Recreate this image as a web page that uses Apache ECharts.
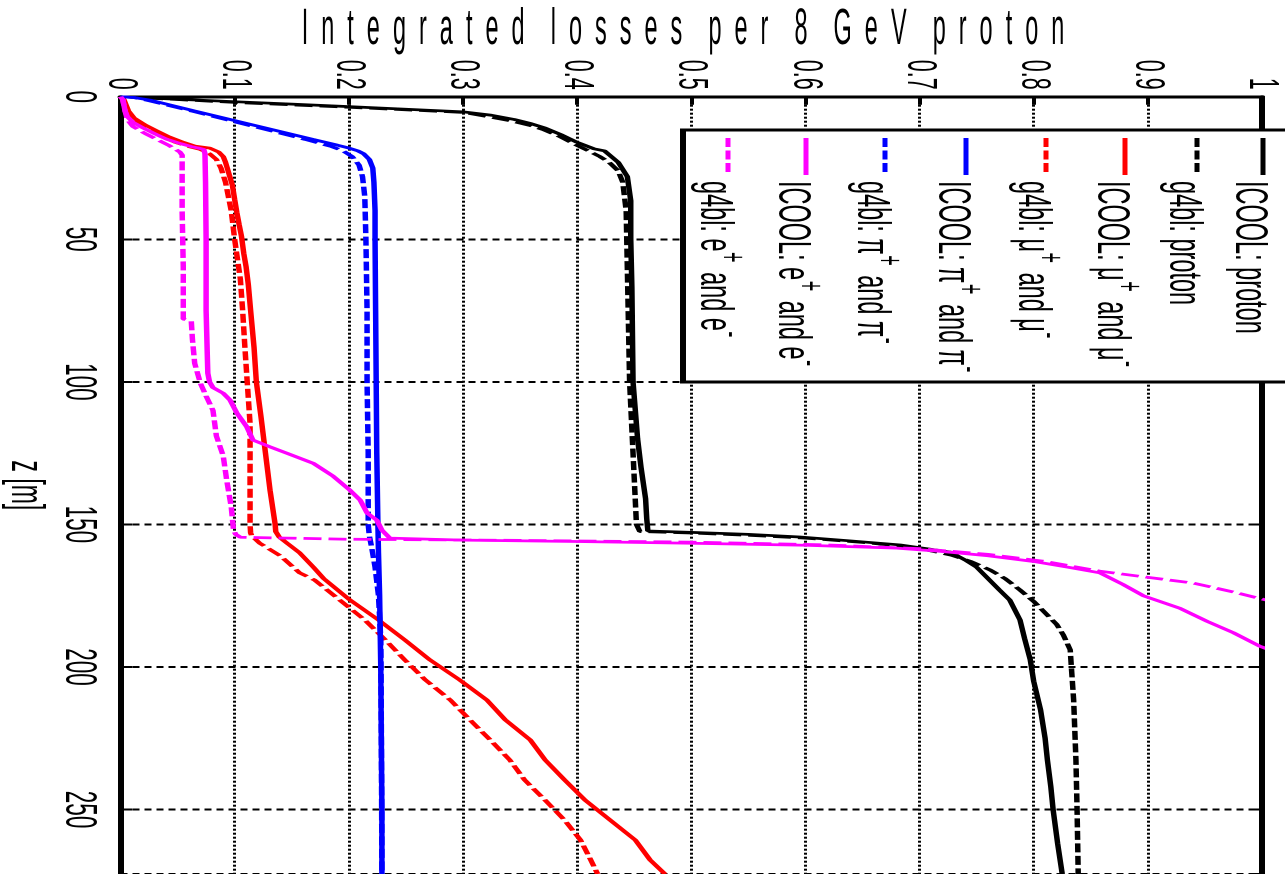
<!DOCTYPE html>
<html><head><meta charset="utf-8">
<script src="https://cdn.jsdelivr.net/npm/echarts/dist/echarts.min.js"></script>
<style>
html,body{margin:0;padding:0;background:#fff;overflow:hidden}
#wrap{width:1285px;height:874px;overflow:hidden;position:relative;background:#fff}
#chart{width:1285px;height:1748px;transform:scaleY(0.5);transform-origin:0 0;position:absolute;left:0;top:0}
</style></head>
<body><div id="wrap"><div id="chart"></div></div>
<script>
// ---- data: z [m] and integrated loss fraction v ----
const zIcoolProton = [0,0.7,1.75,2.6,3.5,4.4,5.3,6.5,8,9.5,11,13.5,16,18.3,19,21,23,28,36.5,50,67,100,110,120,130,141,148,152.3,152.8,153.5,154.4,155.8,157.2,159.7,162.5,165,167.8,173,176.5,183.5,190,197.5,205,215,225,232.6,242,250,262,272.6];
const vIcoolProton = [0,0.04,0.1,0.15,0.2,0.25,0.3,0.325,0.345,0.36,0.372,0.387,0.4,0.415,0.424,0.43,0.436,0.444,0.447,0.447,0.448,0.449,0.451,0.453,0.456,0.46,0.461,0.462,0.5,0.55,0.595,0.64,0.683,0.727,0.74,0.75,0.757,0.77,0.779,0.788,0.792,0.797,0.8,0.806,0.81,0.812,0.815,0.817,0.821,0.825];

const zG4blProton = [0,1,2,3.7,5.5,7,8.5,10,11.5,14,16.5,19,21,23,26,30,40,60,100,125,150,152.5,153,153.8,154.8,156.3,158,160.8,163,166,169,173,177,181.8,185,188.8,194,200,211.6,232.6,250,272.6];
const vG4blProton = [0,0.05,0.1,0.2,0.3,0.322,0.342,0.358,0.37,0.385,0.397,0.41,0.42,0.428,0.436,0.44,0.443,0.444,0.446,0.449,0.452,0.455,0.5,0.55,0.6,0.65,0.695,0.728,0.745,0.762,0.775,0.788,0.8,0.812,0.82,0.826,0.832,0.833,0.835,0.837,0.838,0.839];

const zIcoolMu = [0,1,3,5,7.5,10,12,14,16,17.3,18,19.4,21,23,27,31,36,40.8,45,49,55,59.6,66,75,88,100,112,125,138,150,152.5,154.4,156.6,160,165,169,176.5,183.5,190.5,197.5,204.5,211.6,218.5,225.6,232.6,239.6,246.7,253.7,260.7,267.7,272.6];
const vIcoolMu = [0,0.003,0.005,0.007,0.012,0.022,0.032,0.042,0.055,0.065,0.078,0.086,0.09,0.092,0.095,0.098,0.1,0.102,0.104,0.106,0.108,0.11,0.112,0.114,0.117,0.119,0.123,0.127,0.131,0.1355,0.136,0.139,0.146,0.157,0.169,0.178,0.201,0.226,0.249,0.271,0.297,0.321,0.337,0.359,0.372,0.389,0.407,0.429,0.451,0.464,0.477];

const zG4blMu = [0,1,3,5,8,10,12,14,16,17.5,18.5,20,22,25,30,40,50,64,75,88,100,114.6,130,150,153,154,156.6,161,167,169.5,176.5,183.5,190.5,197.5,204.5,211.6,218.5,225.6,232.6,239.6,246.7,253.7,260.7,267.7,272.6];
const vG4blMu = [0,0.002,0.004,0.006,0.011,0.018,0.027,0.036,0.048,0.06,0.07,0.078,0.084,0.088,0.092,0.097,0.1,0.105,0.107,0.109,0.111,0.1135,0.1135,0.1135,0.114,0.115,0.122,0.14,0.157,0.17,0.192,0.214,0.232,0.249,0.267,0.289,0.306,0.324,0.341,0.354,0.372,0.389,0.403,0.412,0.418];

const zIcoolPi = [0,0.3,1.2,5,10,15,17,18,19,20,22,25,30,40,50,75,100,125,150,160,175,200,225,250,272.6];
const vIcoolPi = [0,0.012,0.026,0.065,0.117,0.169,0.19,0.2,0.208,0.213,0.218,0.221,0.222,0.223,0.223,0.2235,0.224,0.2245,0.2255,0.226,0.227,0.228,0.2285,0.229,0.229];

const zG4blPi = [0,0.3,1.5,5,10,15,17.5,19,21,24,28,35,50,75,100,125,150,154,158,165,175,190,220,272.6];
const vG4blPi = [0,0.012,0.026,0.062,0.112,0.162,0.185,0.195,0.203,0.209,0.212,0.214,0.215,0.216,0.216,0.217,0.217,0.218,0.22,0.223,0.226,0.228,0.2285,0.229];

const zIcoolE = [0,1,3,5,7,9,11,13,15,16.5,17.5,18,18.5,20,30,50,75,90,97,100,102,104,106.4,111,115.7,120.4,122.8,125,128.6,133,138,141.5,146,148.5,152,154.8,155.5,156,156.6,157.3,158.3,159.5,161,163,165,167,171,175,179.4,184,188,192.7,196];
const vIcoolE = [0,0.002,0.003,0.004,0.006,0.011,0.02,0.03,0.041,0.053,0.062,0.068,0.073,0.074,0.0745,0.075,0.075,0.076,0.0765,0.078,0.081,0.09,0.096,0.102,0.1105,0.116,0.131,0.1455,0.169,0.186,0.201,0.21,0.216,0.2245,0.229,0.236,0.3,0.4,0.5,0.6,0.68,0.72,0.76,0.8,0.83,0.858,0.878,0.896,0.928,0.952,0.975,0.998,1.02];

const zG4blE = [0,1,3,5,8,10.5,13,15,17,19.4,20.5,40,60,78,78.6,85,93.5,100.5,105,110,119,126,134.4,143.8,152,153.5,154.5,155.2,155.6,156.2,157.2,158.5,160.5,163,166.4,168.5,170.6,173.7,176,178];
const vG4blE = [0,0.002,0.003,0.004,0.006,0.011,0.022,0.032,0.042,0.052,0.054,0.054,0.055,0.055,0.062,0.063,0.065,0.07,0.075,0.081,0.084,0.09,0.093,0.097,0.099,0.101,0.105,0.2,0.35,0.5,0.62,0.7,0.76,0.81,0.858,0.899,0.94,0.975,0.998,1.02];

const seriesNames = ['ICOOL: proton','g4bl: proton','ICOOL: μ+ and μ-','g4bl: μ+ and μ-','ICOOL: π+ and π-','g4bl: π+ and π-','ICOOL: e+ and e-','g4bl: e+ and e-'];
const seriesColors = ['#000000','#000000','#ff0000','#ff0000','#0000ff','#0000ff','#ff00ff','#ff00ff'];
const seriesDashed = [false,true,false,true,false,true,false,true];
const seriesZ = [zIcoolProton,zG4blProton,zIcoolMu,zG4blMu,zIcoolPi,zG4blPi,zIcoolE,zG4blE];
const seriesV = [vIcoolProton,vG4blProton,vIcoolMu,vG4blMu,vIcoolPi,vG4blPi,vIcoolE,vG4blE];

const titleText = 'Integrated losses per 8 GeV proton';
const zAxisName = 'z [m]';

// ---- layout (canvas is drawn at 2x height, then squeezed vertically by CSS) ----
const FONT = "'Liberation Sans', Arial, Helvetica, sans-serif";
const DASH = [18, 7];
const legendX = [1263, 1197, 1125, 1046, 966, 885, 806, 728];

const chart = echarts.init(document.getElementById('chart'), null, {renderer: 'canvas'});

const spacedTitle = titleText.split(' ').map(w => w.split('').join('  ')).join('    ');

const graphics = [
  {type: 'text', x: 683, y: 60, scaleX: 0.46, scaleY: 2, z: 100,
   style: {text: spacedTitle, fontSize: 51, fontFamily: FONT, fill: '#000', align: 'center', verticalAlign: 'middle'}},
  {type: 'rect', z: 100, shape: {x: 683, y: 260, width: 700, height: 504},
   style: {fill: '#fff', stroke: '#000', lineWidth: 6}}
];
seriesNames.forEach((nm, i) => {
  const X = legendX[i];
  graphics.push({type: 'line', z: 101, shape: {x1: X, y1: 276, x2: X, y2: 350},
    style: {stroke: seriesColors[i], lineWidth: 5, lineDash: seriesDashed[i] ? DASH : null}});
  const parts = nm.split(/([μπe])([+-])/);
  let rt = '';
  for (let k = 0; k < parts.length; k++) {
    const p = parts[k];
    if (p === '') continue;
    if ((p === '+' || p === '-') && k > 0 && /[μπe]/.test(parts[k - 1])) rt += '{s|' + p + '}';
    else rt += '{m|' + p + '}';
  }
  graphics.push({type: 'text', z: 101, x: X - 14, y: 362, rotation: -Math.PI / 2,
    style: {text: rt, fontSize: 47, fontFamily: FONT, fill: '#000',
      align: 'left', verticalAlign: 'middle',
      rich: {
        m: {fontSize: 47, fontFamily: FONT, fill: '#000', lineHeight: 70},
        s: {fontSize: 36, fontFamily: FONT, fill: '#000', verticalAlign: 'top', lineHeight: 12, padding: [0, 6, 0, 1]}
      }}});
});

const series = seriesNames.map((nm, i) => ({
  name: nm, type: 'line', xAxisIndex: 0, yAxisIndex: 0,
  data: seriesZ[i].map((z, k) => [seriesV[i][k], z]),
  showSymbol: false, symbol: 'none', clip: true, z: 10 + i,
  lineStyle: {color: seriesColors[i], width: 5.5, type: seriesDashed[i] ? DASH : 'solid'},
  itemStyle: {color: seriesColors[i]}
}));

const zAxisCommon = {
  type: 'value', inverse: true, min: 0, max: 272.6, interval: 50
};

chart.setOption({
  animation: false,
  backgroundColor: '#fff',
  textStyle: {fontFamily: FONT},
  grid: {left: 120.5, right: 23, top: 193.4, bottom: 0, containLabel: false, outerBoundsMode: 'none'},
  xAxis: {
    type: 'value', position: 'top', min: 0, max: 1, interval: 0.1,
    axisLine: {show: true, lineStyle: {color: '#000', width: 6}},
    axisTick: {show: true, inside: true, length: 16, lineStyle: {color: '#000', width: 4}},
    axisLabel: {rotate: -90, margin: 14, fontSize: 43, color: '#000', fontFamily: FONT},
    splitLine: {show: true, lineStyle: {color: '#000', width: 3, type: [4, 4]}}
  },
  yAxis: [
    Object.assign({}, zAxisCommon, {
      position: 'left', name: zAxisName, nameLocation: 'middle', nameRotate: -90, nameGap: 70,
      nameTextStyle: {fontSize: 46, color: '#000', fontFamily: FONT},
      axisLine: {show: true, lineStyle: {color: '#000', width: 6}},
      axisTick: {show: true, inside: true, length: 12, lineStyle: {color: '#000', width: 4}},
      axisLabel: {rotate: -90, margin: 20, fontSize: 45, color: '#000', fontFamily: FONT, showMaxLabel: false,
        formatter: v => (Math.abs(v % 50) < 1e-6 ? String(v) : '')},
      splitLine: {show: true, lineStyle: {color: '#000', width: 4, type: [7, 5]}}
    }),
    Object.assign({}, zAxisCommon, {
      position: 'right',
      axisLine: {show: true, lineStyle: {color: '#000', width: 6}},
      axisTick: {show: true, inside: true, length: 12, lineStyle: {color: '#000', width: 4}},
      axisLabel: {show: false},
      splitLine: {show: false}
    })
  ],
  series: series,
  graphic: {elements: graphics}
});
</script>
</body></html>
